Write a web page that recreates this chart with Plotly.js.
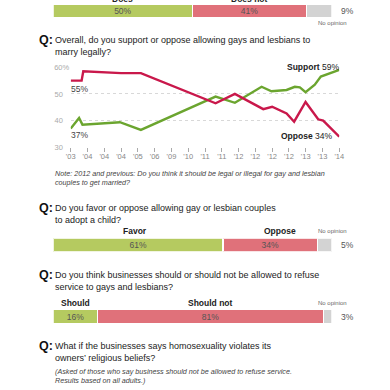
<!DOCTYPE html>
<html>
<head>
<meta charset="utf-8">
<script src="https://cdn.plot.ly/plotly-3.0.1.min.js"></script>
<style>
html,body{margin:0;padding:0;background:#fff;}
#chart{width:390px;height:390px;}
</style>
</head>
<body>
<div id="chart"></div>
<script>
// ---------- DATA ----------
const q1Labels = ['Does', 'Does not', 'No opinion'];
const q1Values = [50, 41, 9];

const yearTicks = ["'03","'04","'04","'04","'05","'06","'09","'10","'11","'11","'12","'12","'12","'12","'13","'13","'14"];
const supportX = [0, 0.5, 0.7, 2.93, 4.18, 8.63, 9.78, 11.37, 11.96, 12.86, 13.35, 13.65, 13.99, 14.54, 14.9, 16];
const supportY = [37, 41, 38.5, 39.4, 36.5, 49, 46.7, 52.7, 51, 51.5, 52.7, 52.5, 50.7, 53.5, 56.5, 59];
const opposeX = [0, 0.65, 0.75, 3.0, 4.18, 8.63, 9.78, 11.47, 12.0, 12.86, 13.31, 13.99, 14.74, 15.04, 16];
const opposeY = [55, 55, 58.5, 57.8, 57.8, 46.5, 50, 44.3, 45.2, 42.7, 39.6, 47, 40.5, 40, 34];
const yTickVals = [30, 40, 50, 60];
const yTickText = ['30\u00a0\u00a0\u00a0', '40\u00a0\u00a0\u00a0', '50\u00a0\u00a0\u00a0', '60%'];

const q3Labels = ['Favor', 'Oppose', 'No opinion'];
const q3Values = [61, 34, 5];

const q4Labels = ['Should', 'Should not', 'No opinion'];
const q4Values = [16, 81, 3];

// ---------- STYLE ----------
const W = 390, H = 390;
const GREEN_BAR = '#b5ca60', RED_BAR = '#e0717a', GRAY_BAR = '#d3d3d3';
const GREEN_LINE = '#6ba52f', RED_LINE = '#c9184b';
const FONT = 'Liberation Sans, Arial, sans-serif';
const px = v => v / W;
const py = v => 1 - v / H;

const segColors = [GREEN_BAR, RED_BAR, GRAY_BAR];

function stackTraces(values, xa, ya) {
  return values.map((v, i) => ({
    type: 'bar', orientation: 'h',
    x: [v], y: [0], xaxis: xa, yaxis: ya,
    width: 1,
    marker: {color: segColors[i], line: {color: '#fff', width: 1.2}},
    text: i < 2 ? [v + '%'] : [''],
    textposition: 'inside', insidetextanchor: 'middle', constraintext: 'none',
    textfont: {family: FONT, size: 8.5, color: '#555'},
    hoverinfo: 'skip', cliponaxis: false
  }));
}

const traces = [
  ...stackTraces(q1Values, 'x', 'y'),
  {type: 'scatter', mode: 'lines', x: supportX, y: supportY, xaxis: 'x2', yaxis: 'y2',
   line: {color: GREEN_LINE, width: 2.4}, hoverinfo: 'skip', cliponaxis: false},
  {type: 'scatter', mode: 'lines', x: opposeX, y: opposeY, xaxis: 'x2', yaxis: 'y2',
   line: {color: RED_LINE, width: 2.4}, hoverinfo: 'skip', cliponaxis: false},
  ...stackTraces(q3Values, 'x3', 'y3'),
  ...stackTraces(q4Values, 'x4', 'y4')
];

const barDomainX = [px(53.3), px(331.5)];
const hidden = {visible: false, fixedrange: true};

const ann = [];
function txt(t, x, y, o) {
  ann.push(Object.assign({text: t, xref: 'paper', yref: 'paper', x: px(x), y: py(y),
    xanchor: 'left', yanchor: 'middle', showarrow: false,
    font: {family: FONT, size: 9, color: '#222'}}, o || {}));
}
function q(y) {
  txt('<b>Q:</b>', 37.3, y, {font: {family: FONT, size: 12.5, color: '#111'}});
}
function axTxt(t, xa, ya, x, y, o) {
  ann.push(Object.assign({text: t, xref: xa, yref: ya, x: x, y: y,
    xanchor: 'center', yanchor: 'middle', showarrow: false,
    font: {family: FONT, size: 8.5, color: '#222'}}, o || {}));
}
const SMALL = {family: FONT, size: 6, color: '#666'};
const PCT = {family: FONT, size: 8.5, color: '#555'};
const HEAD = {family: FONT, size: 8.5, color: '#222'};

// bar 1
axTxt('<b>' + q1Labels[0] + '</b>', 'x', 'paper', q1Values[0] / 2, py(-1.5), {font: HEAD});
axTxt('<b>' + q1Labels[1] + '</b>', 'x', 'paper', q1Values[0] + q1Values[1] / 2, py(-1.5), {font: HEAD});
axTxt(q1Values[2] + '%', 'x', 'y', 100, 0, {xanchor: 'left', xshift: 7, font: PCT});
txt(q1Labels[2], 349, 22.7, {xanchor: 'right', font: SMALL});

// Q1
q(40);
txt('Overall, do you support or oppose allowing gays and lesbians to', 52.5, 40);
txt('marry legally?', 52.5, 52);

// line chart labels (paper positioned)
const LBL = {family: FONT, size: 8.5, color: '#444'};
txt(supportY[0] + '%', 68.5, 135, {font: LBL});
txt(opposeY[0] + '%', 68.5, 89, {font: LBL});
txt('<b>Support</b> ' + supportY[supportY.length - 1] + '%', 340.5, 67, {xanchor: 'right', font: {family: FONT, size: 8.5, color: '#222'}});
txt('<b>Oppose</b> ' + opposeY[opposeY.length - 1] + '%', 333.5, 136, {xanchor: 'right', font: {family: FONT, size: 8.5, color: '#222'}});

// Note
const NOTE = {family: FONT, size: 7.2, color: '#444'};
txt('<i>Note: 2012 and previous: Do you think it should be legal or illegal for gay and lesbian</i>', 52.5, 173.3, {font: NOTE});
txt('<i>couples to get married?</i>', 52.5, 182.7, {font: NOTE});

// Q3
q(208);
txt('Do you favor or oppose allowing gay or lesbian couples', 52.5, 208);
txt('to adopt a child?', 52.5, 220);
axTxt('<b>' + q3Labels[0] + '</b>', 'x3', 'paper', q3Values[0] / 2 - 1, py(231), {font: HEAD});
axTxt('<b>' + q3Labels[1] + '</b>', 'x3', 'paper', q3Values[0] + q3Values[1] / 2 + 3.5, py(231), {font: HEAD});
txt(q3Labels[2], 349, 231, {xanchor: 'right', font: SMALL});
axTxt(q3Values[2] + '%', 'x3', 'y3', 100, 0, {xanchor: 'left', xshift: 7, font: PCT});

// Q4
q(274.5);
txt('Do you think businesses should or should not be allowed to refuse', 52.5, 274.5);
txt('service to gays and lesbians?', 52.5, 286.5);
axTxt('<b>' + q4Labels[0] + '</b>', 'x4', 'paper', q4Values[0] / 2, py(302.5), {font: HEAD});
axTxt('<b>' + q4Labels[1] + '</b>', 'x4', 'paper', q4Values[0] + q4Values[1] / 2, py(302.5), {font: HEAD});
txt(q4Labels[2], 349, 302.5, {xanchor: 'right', font: SMALL});
axTxt(q4Values[2] + '%', 'x4', 'y4', 100, 0, {xanchor: 'left', xshift: 7, font: PCT});

// Q5
q(345.5);
txt('What if the businesses says homosexuality violates its', 52.5, 345.5);
txt('owners\u2019 religious beliefs?', 52.5, 357.5);
txt('<i>(Asked of those who say business should not be allowed to refuse service.</i>', 52.5, 371.7, {font: NOTE});
txt('<i>Results based on all adults.)</i>', 52.5, 380.7, {font: NOTE});

const layout = {
  width: W, height: H,
  margin: {l: 0, r: 0, t: 0, b: 0, pad: 0},
  paper_bgcolor: '#fff', plot_bgcolor: '#fff',
  showlegend: false, barmode: 'stack',
  font: {family: FONT},
  xaxis: Object.assign({domain: barDomainX, range: [0, 100], anchor: 'y'}, hidden),
  yaxis: Object.assign({domain: [py(17.2), py(4.8)], range: [-0.5, 0.5], anchor: 'x'}, hidden),
  xaxis2: {domain: [px(70.7), px(339.3)], range: [0, 16], anchor: 'y2', fixedrange: true,
    tickvals: yearTicks.map((_, i) => i), ticktext: yearTicks,
    ticks: 'outside', ticklen: 4, tickcolor: '#aaa', tickwidth: 1, ticklabelstandoff: -2,
    showgrid: false, zeroline: false, showline: false,
    tickfont: {family: FONT, size: 7.5, color: '#888'}},
  yaxis2: {domain: [py(147.3), py(67.3)], range: [30, 60], anchor: 'x2', fixedrange: true,
    tickvals: yTickVals, ticktext: yTickText, ticks: '',
    showgrid: true, gridcolor: '#d8d8d8', griddash: 'dot', gridwidth: 1,
    zeroline: false, showline: true, linecolor: '#fff', linewidth: 0.01,
    tickfont: {family: FONT, size: 7.5, color: '#aaa'}},
  xaxis3: Object.assign({domain: barDomainX, range: [0, 100], anchor: 'y3'}, hidden),
  yaxis3: Object.assign({domain: [py(251.7), py(238.3)], range: [-0.5, 0.5], anchor: 'x3'}, hidden),
  xaxis4: Object.assign({domain: barDomainX, range: [0, 100], anchor: 'y4'}, hidden),
  yaxis4: Object.assign({domain: [py(323.3), py(309.8)], range: [-0.5, 0.5], anchor: 'x4'}, hidden),
  annotations: ann
};

Plotly.newPlot('chart', traces, layout, {displayModeBar: false, staticPlot: true});
</script>
</body>
</html>
